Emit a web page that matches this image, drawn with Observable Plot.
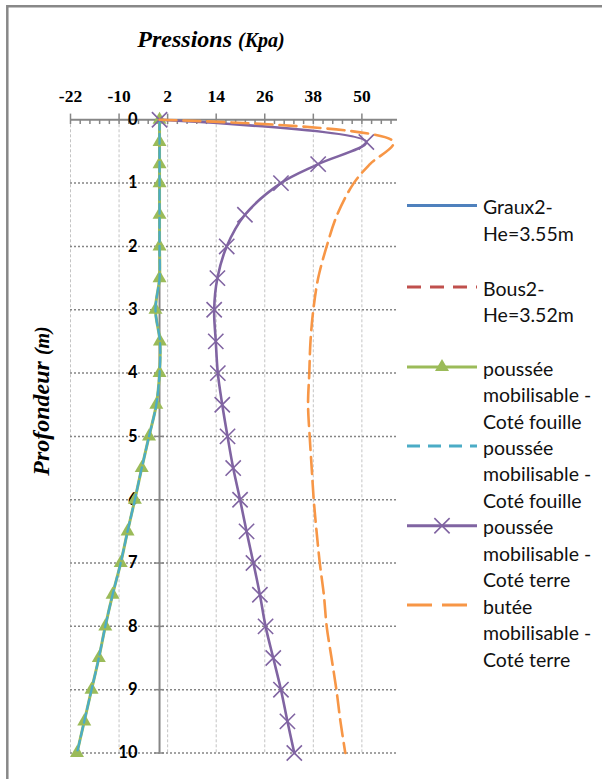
<!DOCTYPE html>
<html><head><meta charset="utf-8">
<script src="https://cdn.jsdelivr.net/npm/d3@7"></script>
<script src="https://cdn.jsdelivr.net/npm/@observablehq/plot@0.6"></script>
<style>html,body{margin:0;padding:0;background:#fff}#chart{width:602px;height:779px;overflow:hidden}</style>
</head><body><div id="chart"></div>
<script>
// ---- data ----
const depth = [0, 0.35, 0.7, 1, 1.5, 2, 2.5, 3, 3.5, 4, 4.5, 5, 5.5, 6, 6.5, 7, 7.5, 8, 8.5, 9, 9.5, 10];
const pousseeFouille = [0, 0, 0, 0, 0, 0, 0, -1, 0.1, 0, -0.8, -2.6, -4.4, -6.1, -7.9, -9.6, -11.6, -13.4, -15, -16.8, -18.6, -20.4];
const pousseeTerre = [0, 51.1, 39.2, 30.0, 21.1, 16.6, 14.3, 13.5, 13.9, 14.4, 15.5, 16.8, 18.2, 19.9, 21.5, 23.2, 24.8, 26.2, 28.1, 30.0, 31.6, 33.3];
const buteeTerre = [0, 57.8, 52.0, 48.0, 43.9, 41.3, 39.2, 38.0, 37.3, 37.0, 36.7, 37.1, 37.6, 38.1, 38.8, 39.6, 40.6, 41.3, 42.5, 43.7, 44.7, 45.9];
const xTicks = [-22, -10, 2, 14, 26, 38, 50];
const yTicks = [0, 1, 2, 3, 4, 5, 6, 7, 8, 9, 10];
const legendLabels = [
  ["Graux2-", "He=3.55m"],
  ["Bous2-", "He=3.52m"],
  ["poussée", "mobilisable -", "Coté fouille"],
  ["poussée", "mobilisable -", "Coté fouille"],
  ["poussée", "mobilisable -", "Coté terre"],
  ["butée", "mobilisable -", "Coté terre"]
];
const xMin = -22, xMax = 58.8, xMinor = 2.4;

const rows = depth.map((d, i) => ({depth: d, fouille: pousseeFouille[i], terre: pousseeTerre[i], butee: buteeTerre[i]}));
const minorTicks = d3.range(0, 40).filter(k => k % 5 !== 0).map(k => xMin + xMinor * k).filter(v => v <= xMax);
const hGrid = yTicks.filter(d => d > 0);

const C = {green: "#9BBB59", cyan: "#4BACC6", purple: "#8064A2", orange: "#F79646", blue: "#4F81BD", red: "#C0504D", axis: "#868686"};
const serif = "'Liberation Serif','Times New Roman',serif";
const sans = "Lato, 'Open Sans', sans-serif";

const plot = Plot.plot({
  width: 602, height: 779,
  marginLeft: 70, marginRight: 205, marginTop: 119.3, marginBottom: 26.5,
  x: {domain: [xMin, xMax], axis: null},
  y: {domain: [0, 10], reverse: true, axis: null},
  style: {background: "transparent", overflow: "visible"},
  marks: [
    Plot.ruleX(xTicks, {x: d => d, y1: 0, y2: 10, stroke: "#c4c4c4", strokeWidth: 1, strokeDasharray: "3,2"}),
    Plot.ruleY(hGrid, {y: d => d, x1: xMin, x2: xMax, stroke: "#858585", strokeWidth: 1.5, strokeDasharray: "2,2"}),
    Plot.ruleY([0], {x1: xMin, x2: xMax, stroke: C.axis, strokeWidth: 2}),
    Plot.ruleX(xTicks, {x: d => d, y1: -0.09, y2: 0.075, stroke: C.axis, strokeWidth: 1.5}),
    Plot.ruleX(minorTicks, {x: d => d, y1: 0, y2: 0.075, stroke: C.axis, strokeWidth: 1.5}),
    Plot.ruleX([0], {y1: 0, y2: 10, stroke: C.axis, strokeWidth: 2}),
    Plot.ruleY(yTicks, {y: d => d, x1: -1.2, x2: 1.2, stroke: C.axis, strokeWidth: 1.5}),
    Plot.text(xTicks, {x: d => d, frameAnchor: "top", dy: -30, text: d => String(d), fontFamily: serif, fontWeight: "bold", fontSize: 17.5, fill: "#000"}),
    Plot.text(yTicks, {y: d => d, frameAnchor: "left", dx: 67, textAnchor: "end", text: d => String(d), fontFamily: sans, fontWeight: "bold", fontSize: 16.5, fill: "#000"}),
    Plot.line(rows, {x: "fouille", y: "depth", stroke: C.green, strokeWidth: 3, curve: "catmull-rom"}),
    Plot.dot(rows, {x: "fouille", y: "depth", symbol: "triangle", r: 5.2, fill: C.green, stroke: "none"}),
    Plot.line(rows, {x: "fouille", y: "depth", stroke: C.cyan, strokeWidth: 2.3, strokeDasharray: "10,4", curve: "catmull-rom"}),
    Plot.line(rows, {x: "terre", y: "depth", stroke: C.purple, strokeWidth: 2.6, curve: "catmull-rom"}),
    Plot.dot(rows, {x: "terre", y: "depth", symbol: "times", r: 7, stroke: C.purple, strokeWidth: 1.6}),
    Plot.line(rows, {x: "butee", y: "depth", stroke: C.orange, strokeWidth: 2.6, strokeDasharray: "17,7", curve: "catmull-rom"})
  ]
});
document.getElementById("chart").appendChild(plot);

const svg = d3.select(plot);
// outer frame (top and left edges visible)
svg.append("path").attr("d", "M7.3,779V6.3H602").attr("fill", "none").attr("stroke", "#888").attr("stroke-width", 2.5);

// titles
const t = svg.append("text").attr("x", 211).attr("y", 47).attr("text-anchor", "middle")
  .attr("font-family", serif).attr("font-weight", "bold").attr("font-style", "italic").attr("fill", "#000");
t.append("tspan").attr("font-size", 24).text("Pressions ");
t.append("tspan").attr("font-size", 20).text("(Kpa)");

const yt = svg.append("text").attr("transform", "translate(49,401) rotate(-90)").attr("text-anchor", "middle")
  .attr("font-family", serif).attr("font-weight", "bold").attr("font-style", "italic").attr("fill", "#000");
yt.append("tspan").attr("font-size", 24).text("Profondeur ");
yt.append("tspan").attr("font-size", 20).text("(m)");

// legend
const legendStyle = [
  {color: C.blue, dash: null, marker: null, y: 205.5},
  {color: C.red, dash: "14,9", marker: null, y: 287},
  {color: C.green, dash: null, marker: "triangle", y: 367},
  {color: C.cyan, dash: "13,8", marker: null, y: 446},
  {color: C.purple, dash: null, marker: "times", y: 525.7},
  {color: C.orange, dash: "25,10", marker: null, y: 605}
];
const lg = svg.append("g").attr("text-anchor", "start");
legendStyle.forEach((s, i) => {
  lg.append("line").attr("x1", 407).attr("x2", 477).attr("y1", s.y).attr("y2", s.y)
    .attr("stroke", s.color).attr("stroke-width", 3).attr("stroke-dasharray", s.dash);
  if (s.marker === "triangle") {
    lg.append("path").attr("d", d3.symbol(d3.symbolTriangle, Math.PI * 5.2 * 5.2)()).attr("transform", `translate(442,${s.y})`).attr("fill", s.color);
  } else if (s.marker === "times") {
    lg.append("path").attr("d", d3.symbol(d3.symbolTimes, Math.PI * 49)()).attr("transform", `translate(442,${s.y})`).attr("fill", "none").attr("stroke", s.color).attr("stroke-width", 1.6);
  }
  const txt = lg.append("text").attr("font-family", sans).attr("font-size", 19.5).attr("fill", "#111").attr("text-anchor", "start");
  legendLabels[i].forEach((line, j) => {
    txt.append("tspan").attr("x", 483).attr("y", s.y + 1 + j * 26.5).attr("dominant-baseline", "central").text(line);
  });
});
</script>
</body></html>
